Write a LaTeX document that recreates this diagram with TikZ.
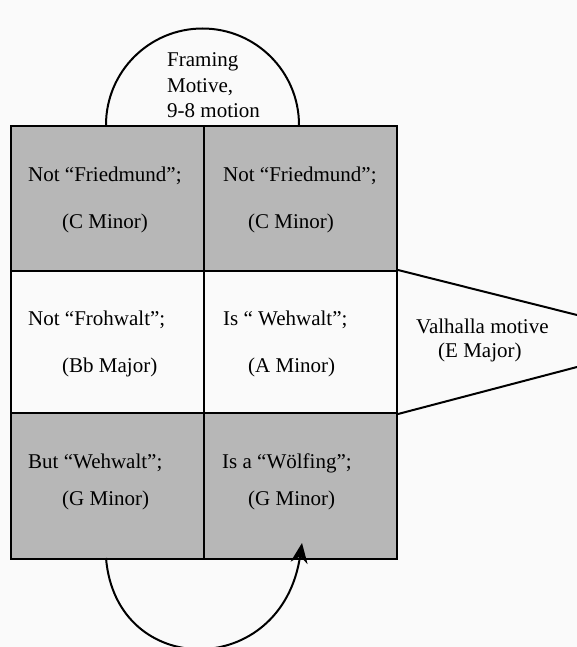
\documentclass[tikz,border=0pt]{standalone}
\usepackage{fontspec}
\setmainfont{Liberation Serif}
\usetikzlibrary{arrows.meta}
\definecolor{cellgray}{RGB}{183,183,183}
\definecolor{paper}{RGB}{250,250,250}
\begin{document}
\begin{tikzpicture}[x=1pt,y=-1pt,
  cell/.style={draw=black, line width=2pt, anchor=north west, inner sep=0pt, minimum width=193pt},
  shaded/.style={cell, fill=cellgray},
  plain/.style={cell, fill=paper},
  lbl/.style={anchor=base west, inner sep=0pt, font=\fontsize{21}{24}\selectfont},
  curve/.style={draw=black, line width=2pt}
]
% page
\fill[paper] (0,0) rectangle (577,647);
\useasboundingbox (0,0) rectangle (577,647);

% framing arc above the grid (y axis points down, so sweep 180 -> 360)
\coordinate (arcL) at (106,125);
\draw[curve] (arcL) arc[start angle=180, end angle=360, radius=96.5];

% Valhalla wedge on the right
\coordinate (wTopR) at (577,315);
\coordinate (wBotR) at (577,367);

% grid of cells
\node[shaded, minimum height=145pt] (c11) at (10,125) {};
\node[shaded, minimum height=145pt] (c12) at (203,125) {};
\node[plain,  minimum height=142pt] (c21) at (10,270) {};
\node[plain,  minimum height=142pt] (c22) at (203,270) {};
\node[shaded, minimum height=146pt] (c31) at (10,412) {};
\node[shaded, minimum height=146pt] (c32) at (203,412) {};

\draw[curve] (c22.north east) -- (wTopR);
\draw[curve] (c22.south east) -- (wBotR);

% return arrow below the grid
\coordinate (retS) at (106,558);
\coordinate (retE) at (302,543);
\draw[curve, -{Stealth[length=20pt, width=17pt]}] (retS) .. controls (116,680) and (282,680) .. (retE);

% labels
\node[lbl] (t11a) at (28,182) {Not “Friedmund”;};
\node[lbl] (t11b) at (62,228) {(C Minor)};
\node[lbl] (t12a) at (223,182) {Not “Friedmund”;};
\node[lbl] (t12b) at (248,228) {(C Minor)};

\node[lbl] (t21a) at (28,325) {Not “Frohwalt”;};
\node[lbl] (t21b) at (62,372) {(Bb Major)};
\node[lbl] (t22a) at (223,325) {Is “ Wehwalt”;};
\node[lbl] (t22b) at (248,372) {(A Minor)};

\node[lbl] (t31a) at (28,468) {But “Wehwalt”;};
\node[lbl] (t31b) at (62,505) {(G Minor)};
\node[lbl] (t32a) at (222,468) {Is a “Wölfing”;};
\node[lbl] (t32b) at (248,505) {(G Minor)};

\node[lbl] (f1) at (167,67) {Framing};
\node[lbl] (f2) at (167,93) {Motive,};
\node[lbl] (f3) at (167,118) {9-8 motion};

\node[lbl] (v1) at (416,333) {Valhalla motive};
\node[lbl] (v2) at (438,357) {(E Major)};
\end{tikzpicture}
\end{document}
